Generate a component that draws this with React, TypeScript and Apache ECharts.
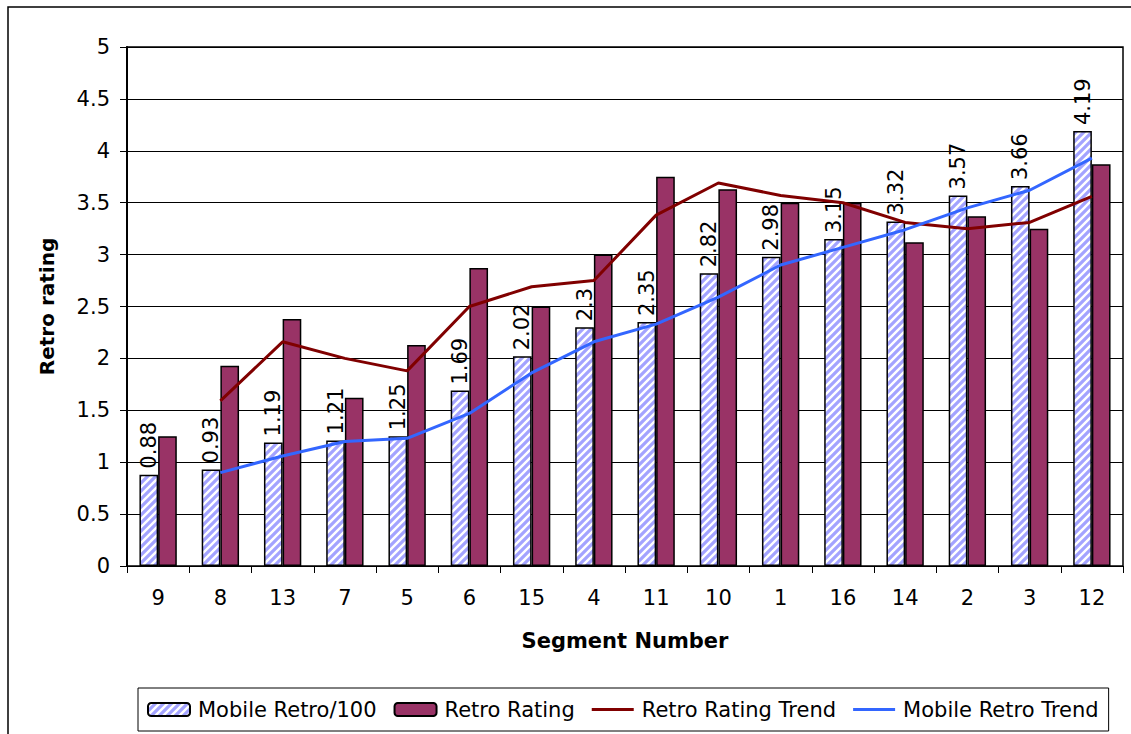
import React, { useEffect, useRef } from "react";
import * as echarts from "echarts";

const categories = ["9", "8", "13", "7", "5", "6", "15", "4", "11", "10", "1", "16", "14", "2", "3", "12"];
const mobileRetro = [0.88, 0.93, 1.19, 1.21, 1.25, 1.69, 2.02, 2.3, 2.35, 2.82, 2.98, 3.15, 3.32, 3.57, 3.66, 4.19];
const retroRating = [1.25, 1.93, 2.38, 1.62, 2.13, 2.87, 2.5, 3.0, 3.75, 3.63, 3.5, 3.5, 3.12, 3.37, 3.25, 3.87];
const retroTrend = [null, 1.59, 2.16, 2.0, 1.88, 2.5, 2.69, 2.75, 3.38, 3.69, 3.57, 3.5, 3.31, 3.25, 3.31, 3.56];
const mobileTrend = [null, 0.9, 1.06, 1.2, 1.23, 1.47, 1.86, 2.16, 2.33, 2.59, 2.9, 3.07, 3.24, 3.45, 3.62, 3.93];
const seriesNames = ["Mobile Retro/100", "Retro Rating", "Retro Rating Trend", "Mobile Retro Trend"];

const FONT = "DejaVu Sans";

function makeStripe(): HTMLCanvasElement {
  const w = 8;
  const c = document.createElement("canvas");
  c.width = w;
  c.height = w;
  const ctx = c.getContext("2d")!;
  ctx.fillStyle = "#ffffff";
  ctx.fillRect(0, 0, w, w);
  ctx.strokeStyle = "#a3a3ff";
  ctx.lineWidth = 3.2;
  ctx.beginPath();
  ctx.moveTo(-1, w + 1);
  ctx.lineTo(w + 1, -1);
  ctx.moveTo(-3, 3);
  ctx.lineTo(3, -3);
  ctx.moveTo(w - 3, w + 3);
  ctx.lineTo(w + 3, w - 3);
  ctx.stroke();
  return c;
}

export default function App() {
  const ref = useRef<HTMLDivElement>(null);
  useEffect(() => {
    if (!ref.current) return;
    const chart = echarts.init(ref.current, undefined, { renderer: "svg" });
    const stripe = { image: makeStripe(), repeat: "repeat" } as any;
    const linePath = "path://M0,0 H14 V1 H0 Z";
    chart.setOption({
      animation: false,
      backgroundColor: "#ffffff",
      textStyle: { fontFamily: FONT, color: "#000" },
      graphic: [
        {
          type: "rect",
          shape: { x: 8, y: 7, width: 1160, height: 780 },
          style: { fill: "none", stroke: "#000", lineWidth: 1.5 },
          silent: true,
          z: -10,
        },
      ],
      grid: {
        left: 127,
        right: 8,
        top: 47,
        bottom: 168,
        show: true,
        borderColor: "#000",
        borderWidth: 1.5,
        backgroundColor: "transparent",
      },
      legend: {
        left: 138,
        top: 688,
        padding: [11, 10, 11, 9],
        borderColor: "#000",
        borderWidth: 1,
        itemWidth: 42,
        itemHeight: 13,
        itemGap: 17,
        textStyle: { fontFamily: FONT, fontSize: 21, color: "#000", padding: [0, 0, 0, 3] },
        data: [
          { name: seriesNames[0] },
          { name: seriesNames[1] },
          { name: seriesNames[2], icon: linePath, itemStyle: { borderWidth: 0 } },
          { name: seriesNames[3], icon: linePath, itemStyle: { borderWidth: 0 } },
        ],
      },
      xAxis: {
        type: "category",
        data: categories,
        axisLine: { lineStyle: { color: "#000", width: 1 } },
        axisTick: { show: true, length: 7, lineStyle: { color: "#000" } },
        axisLabel: { fontFamily: FONT, fontSize: 21, color: "#000", margin: 21 },
        name: "Segment Number",
        nameLocation: "middle",
        nameGap: 64,
        nameTextStyle: { fontFamily: FONT, fontSize: 21, fontWeight: "bold", color: "#000" },
      },
      yAxis: {
        type: "value",
        min: 0,
        max: 5,
        interval: 0.5,
        axisLine: { show: true, lineStyle: { color: "#000", width: 2 } },
        axisTick: { show: true, length: 7, lineStyle: { color: "#000" } },
        axisLabel: { fontFamily: FONT, fontSize: 21, color: "#000", margin: 17 },
        splitLine: { show: true, lineStyle: { color: "#000", width: 1 } },
        name: "Retro rating",
        nameLocation: "middle",
        nameGap: 70,
        nameRotate: 90,
        nameTextStyle: { fontFamily: FONT, fontSize: 20, fontWeight: "bold", color: "#000" },
      },
      series: [
        {
          name: seriesNames[0],
          type: "bar",
          data: mobileRetro,
          barGap: "0%",
          barCategoryGap: "40%",
          itemStyle: { color: stripe, borderColor: "#000", borderWidth: 1.5 },
          label: {
            show: true,
            position: "top",
            rotate: 90,
            align: "left",
            verticalAlign: "middle",
            distance: 6,
            fontFamily: FONT,
            fontSize: 21,
            color: "#000",
          },
          z: 2,
        },
        {
          name: seriesNames[1],
          type: "bar",
          data: retroRating,
          barGap: "0%",
          barCategoryGap: "40%",
          itemStyle: { color: "#993366", borderColor: "#000", borderWidth: 1.5 },
          z: 2,
        },
        {
          name: seriesNames[2],
          type: "line",
          data: retroTrend,
          symbol: "none",
          lineStyle: { color: "#800000", width: 3 },
          itemStyle: { color: "#800000" },
          z: 5,
        },
        {
          name: seriesNames[3],
          type: "line",
          data: mobileTrend,
          symbol: "none",
          lineStyle: { color: "#3366ff", width: 3 },
          itemStyle: { color: "#3366ff" },
          z: 5,
        },
      ],
    });
    return () => chart.dispose();
  }, []);
  return (
    <div
      ref={ref}
      style={{ position: "fixed", left: 0, top: 0, width: 1131, height: 734, background: "#fff" }}
    />
  );
}
